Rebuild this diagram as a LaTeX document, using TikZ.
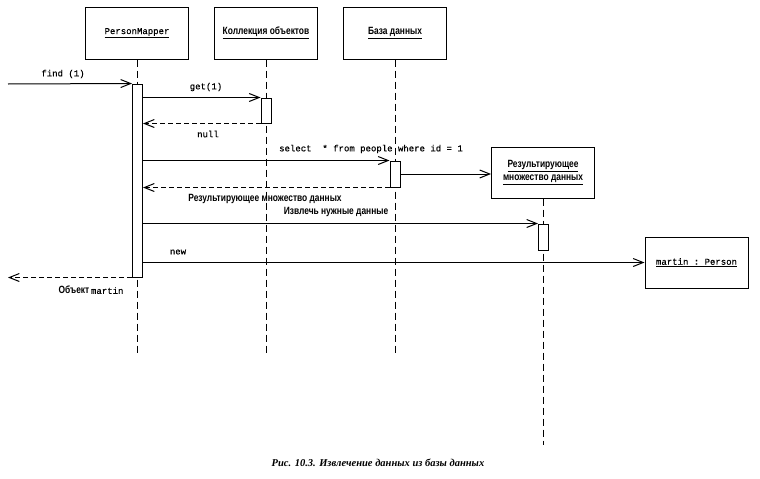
\documentclass[tikz,border=0pt]{standalone}
\usepackage{fontspec}
\setmainfont{Liberation Serif}
\setmonofont[FakeBold=0.3]{Liberation Mono}
\newfontfamily\narrowsans[FakeStretch=0.8]{Liberation Sans}
\usetikzlibrary{arrows.meta}

\begin{document}
\begin{tikzpicture}[x=1pt,y=-1pt,line width=1pt,
  obj/.style={draw,minimum width=103pt,minimum height=52pt,inner sep=0pt,align=center},
  act/.style={draw,fill=white,minimum width=10pt,inner sep=0pt},
  life/.style={dash pattern=on 7pt off 4pt},
  msg/.style={-{Straight Barb[length=10pt,width=8pt]}},
  ret/.style={msg,dash pattern=on 5pt off 3pt},
  mono/.style={font=\ttfamily\fontsize{9}{11}\selectfont,inner sep=1pt},
  rus/.style={font=\narrowsans\bfseries\fontsize{10.5}{13}\selectfont,inner sep=1pt,align=center},
  caption/.style={font=\bfseries\itshape\fontsize{10.5}{12}\selectfont}]

\useasboundingbox (0,0) rectangle (760,479);

% objects
\node[obj,mono] (pm)  at (137,33)    {\underline{PersonMapper}};
\node[obj,rus]  (col) at (266,33)    {\underline{Коллекция объектов}};
\node[obj,rus]  (db)  at (395,33)    {\underline{База данных}};
\node[obj,rus,minimum height=51pt] (res) at (543,172.5)
  {\underline{Результирующее}\\\underline{множество данных}};
\node[obj,mono,minimum height=51pt] (martin) at (696.5,262.5) {\underline{martin : Person}};

% lifelines
\coordinate (pmEnd)  at (137,355);
\coordinate (colEnd) at (266,355);
\coordinate (dbEnd)  at (395,355);
\coordinate (resEnd) at (543,445);
\draw[life] (pm.south)  -- (pmEnd);
\draw[life] (col.south) -- (colEnd);
\draw[life] (db.south)  -- (dbEnd);
\draw[life] (res.south) -- (resEnd);

% activations
\node[act,minimum height=193pt] (pmA)  at (137.5,180.5) {};
\node[act,minimum height=25pt]  (colA) at (266,110.5) {};
\node[act,minimum height=26pt]  (dbA)  at (395,174) {};
\node[act,minimum height=26pt]  (resA) at (543.5,237) {};

% messages
\coordinate (caller) at (8,84);
\draw[msg] (caller) -- (pmA.north west);
\draw[msg] (pmA.east |- colA.north) -- (colA.north west);
\draw[ret] (colA.south west) -- (pmA.east |- colA.south);
\draw[msg] (pmA.east |- dbA.north) -- (dbA.north west);
\draw[msg] (dbA.east) -- (res.west |- dbA.east);
\draw[ret] (dbA.south west) -- (pmA.east |- dbA.south);
\draw[msg] (pmA.east |- resA.north) -- (resA.north west);
\draw[msg] (pmA.east |- martin.west) -- (martin.west);
\draw[ret] (pmA.south west) -- (caller |- pmA.south);

% message labels
\node[mono] (lFind) at (63,74)  {find (1)};
\node[mono] (lGet)  at (206,87) {get(1)};
\node[mono] (lNull) at (208,134) {null};
\node[mono] (lSel)  at (371,149) {select\ \ * from people where id = 1};
\node[rus]  (lRes)  at (265,199) {Результирующее множество данных};
\node[rus]  (lExt)  at (336,212) {Извлечь нужные данные};
\node[mono] (lNew)  at (178,252) {new};
\node[inner sep=1pt] (lObj) at (91,290)
  {\narrowsans\bfseries\fontsize{10.5}{13}\selectfont Объект\,\ttfamily\mdseries\fontsize{9}{11}\selectfont martin};

% caption
\node[caption] (cap) at (378,463) {Рис. 10.3. Извлечение данных из базы данных};
\end{tikzpicture}
\end{document}
